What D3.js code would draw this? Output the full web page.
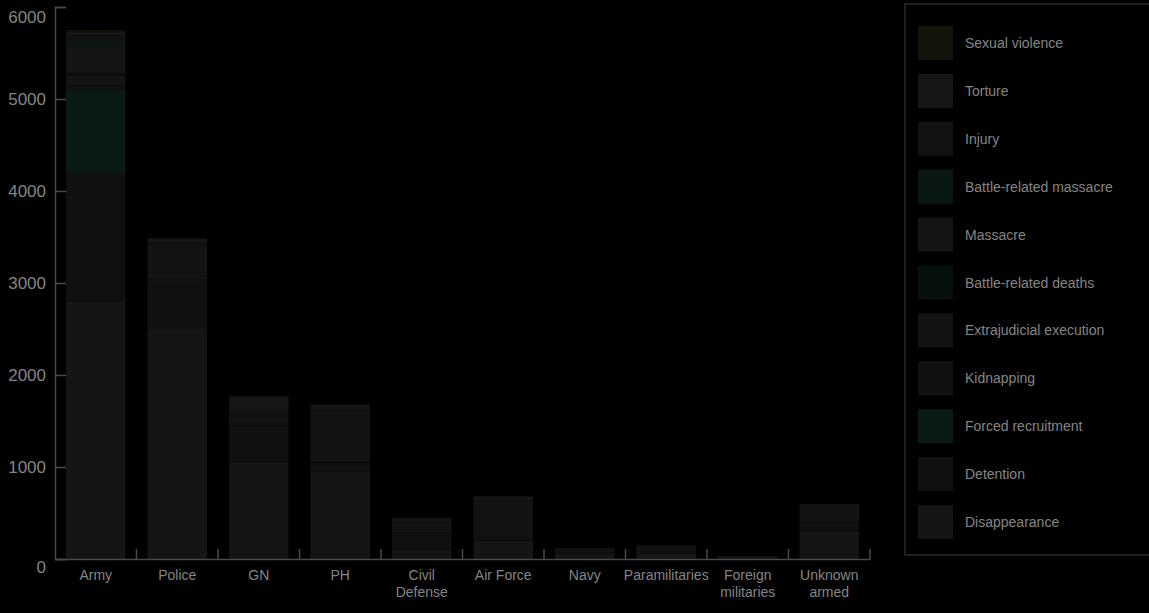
<!DOCTYPE html>
<html><head><meta charset="utf-8">
<script src="https://cdn.jsdelivr.net/npm/d3@7"></script>
<style>
html,body{margin:0;padding:0;background:#000;}
svg{display:block;}
text{font-family:"Liberation Sans Narrow","Arial Narrow","Liberation Sans",sans-serif;fill:#858585;}
</style></head>
<body>
<svg id="c" width="1149" height="613"></svg>
<script>
const categories = ["Army","Police","GN","PH","Civil Defense","Air Force","Navy","Paramilitaries","Foreign militaries","Unknown armed"];
const categoryLines = [["Army"],["Police"],["GN"],["PH"],["Civil","Defense"],["Air Force"],["Navy"],["Paramilitaries"],["Foreign","militaries"],["Unknown","armed"]];
// stack order, bottom to top
const seriesNames = ["Disappearance","Detention","Forced recruitment","Kidnapping","Extrajudicial execution","Battle-related deaths","Massacre","Battle-related massacre","Injury","Torture","Sexual violence"];
const disappearance   = [2800,2500,1050,950,100,200,60,60,0,300];
const detention       = [1400, 500, 400,100,180, 40,40, 0,0, 20];
const forcedRecruit   = [ 900,   0,   0,  0,  0,  0, 0, 0,0,  0];
const kidnapping      = [  50,  40,  20, 10, 10,  0, 0,20,0, 90];
const extrajudicial   = [ 100, 380, 100,550,110,400,20,60,30,190];
const battleDeaths    = [  30,   0,   0,  0,  0,  0, 0, 0,0,  0];
const massacre        = [ 300,   0,   0,  0, 40,  0, 0, 0,0,  0];
const battleMassacre  = [  50,   0,   0,  0,  0,  0, 0, 0,0,  0];
const injury          = [  60,  20,  50, 20,  0,  0, 0, 0,0,  0];
const torture         = [  40,  40, 130, 50, 10, 40, 0,10,0,  0];
const sexualViolence  = [  20,  10,  20,  5,  0,  0, 0, 0,0,  0];
const yTicks = [0,1000,2000,3000,4000,5000,6000];
const colors = {
  "Disappearance":"#151515","Detention":"#101010","Forced recruitment":"#091b14","Kidnapping":"#111111",
  "Extrajudicial execution":"#131313","Battle-related deaths":"#06110b","Massacre":"#141414",
  "Battle-related massacre":"#0a1812","Injury":"#121212","Torture":"#161616","Sexual violence":"#14140a"
};
const seriesValues = [disappearance,detention,forcedRecruit,kidnapping,extrajudicial,battleDeaths,massacre,battleMassacre,injury,torture,sexualViolence];
const rows = categories.map((c,i)=>{const r={cat:c};seriesNames.forEach((s,j)=>r[s]=seriesValues[j][i]);return r;});

const svg = d3.select("#c");
const x = d3.scaleBand().domain(categories).range([55,870]).paddingInner(0.27).paddingOuter(0.135);
const y = d3.scaleLinear().domain([0,6000]).range([559,7]);
const stack = d3.stack().keys(seriesNames)(rows);

svg.append("g").selectAll("g").data(stack).join("g")
  .attr("fill",d=>colors[d.key])
  .selectAll("rect").data(d=>d).join("rect")
  .attr("x",d=>x(d.data.cat)).attr("width",x.bandwidth())
  .attr("y",d=>y(d[1])).attr("height",d=>Math.max(0,y(d[0])-y(d[1])));

// y axis
const ya = svg.append("g").attr("transform","translate(55,0)")
  .call(d3.axisRight(y).tickValues(yTicks).tickSize(11).tickFormat(""));
ya.selectAll("line,path").attr("stroke","#4a4a4a").attr("stroke-width",1.5);
svg.append("g").selectAll("text").data(yTicks).join("text")
  .attr("x",46).attr("y",d=>y(d)+6+(d===0?8:(d===6000?10:0))).attr("text-anchor","end").attr("font-size",17)
  .text(d=>d);

// x axis
const xa = svg.append("g").attr("transform","translate(0,559)")
  .call(d3.axisTop(x).tickSize(0).tickFormat(""));
xa.select("path").attr("stroke","#4a4a4a").attr("stroke-width",1.5);
const step = x.step();
svg.append("g").selectAll("line").data(categories).join("line")
  .attr("x1",d=>x(d)+x.bandwidth()+ (step-x.bandwidth())/2).attr("x2",d=>x(d)+x.bandwidth()+(step-x.bandwidth())/2)
  .attr("y1",549).attr("y2",559).attr("stroke","#4a4a4a").attr("stroke-width",1.5);
const lbl = svg.append("g").selectAll("text").data(categories).join("text")
  .attr("x",d=>x(d)+x.bandwidth()/2).attr("y",580).attr("text-anchor","middle").attr("font-size",14);
lbl.each(function(d,i){
  d3.select(this).selectAll("tspan").data(categoryLines[i]).join("tspan")
    .attr("x",x(d)+x.bandwidth()/2).attr("dy",(t,k)=>k===0?0:17).text(t=>t);
});

// legend
const leg = svg.append("g");
leg.append("rect").attr("x",905).attr("y",4).attr("width",250).attr("height",551)
  .attr("fill","#000").attr("stroke","#2a2a2a").attr("stroke-width",1.5);
const legOrder = seriesNames.slice().reverse();
const ly = d3.scalePoint().domain(legOrder).range([43,522]);
leg.selectAll("rect.sw").data(legOrder).join("rect").attr("class","sw")
  .attr("x",918).attr("y",d=>ly(d)-17).attr("width",35).attr("height",34).attr("fill",d=>colors[d]);
leg.selectAll("text").data(legOrder).join("text")
  .attr("x",965).attr("y",d=>ly(d)+5).attr("font-size",14).text(d=>d);
</script>
</body></html>
